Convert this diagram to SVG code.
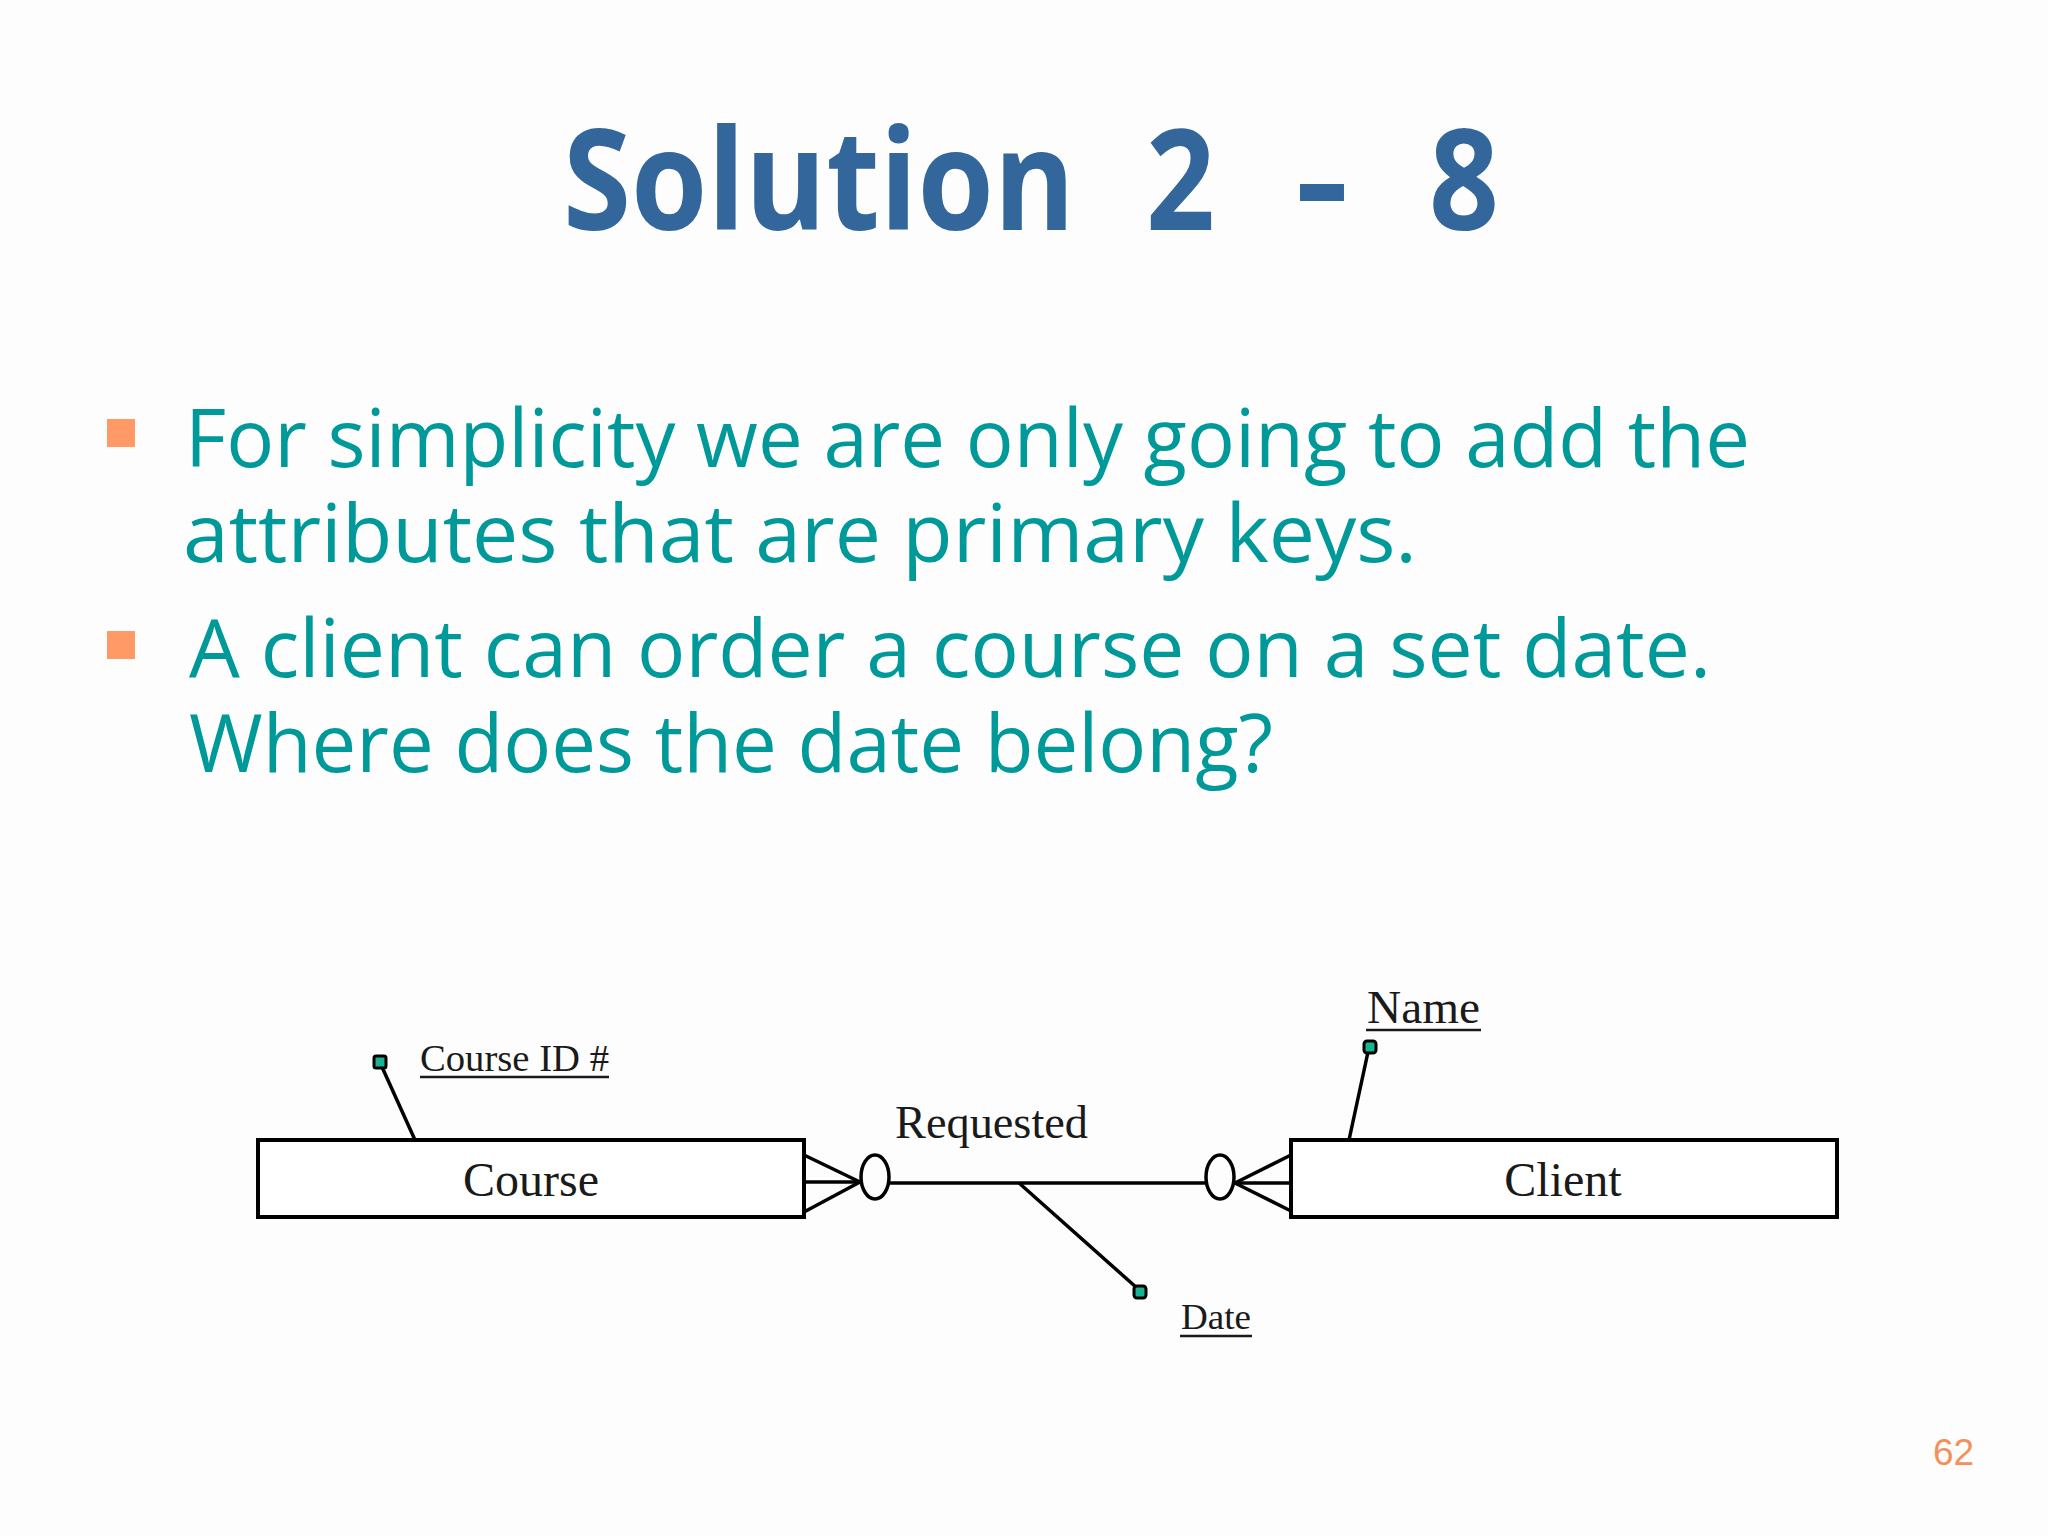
<svg xmlns="http://www.w3.org/2000/svg" width="2048" height="1536" viewBox="0 0 2048 1536">
  <style>
    .title { font-family: "Open Sans", "DejaVu Sans", sans-serif; font-weight: bold; font-size: 140px; fill: #33669A; }
    .bullet-text { font-family: "Open Sans", "DejaVu Sans", sans-serif; font-size: 80px; fill: #009999; }
    .bullet { fill: #FF9966; }
    .entity { fill: #FFFFFF; stroke: #000000; stroke-width: 4; }
    .label { font-family: "Liberation Serif", "Times New Roman", serif; fill: #1A1A1A; }
    .line { stroke: #000000; stroke-width: 3.5; fill: none; }
    .uline { stroke: #1A1A1A; stroke-width: 2.5; }
    .dot { fill: #19B394; stroke: #000000; stroke-width: 3; }
    .page { font-family: "Liberation Sans", Arial, sans-serif; font-size: 37px; fill: #F4915A; }
  </style>
  <rect width="2048" height="1536" fill="#FDFDFD"/>

  <g id="title">
    <text class="title" y="230"><tspan x="563" textLength="512" lengthAdjust="spacingAndGlyphs">Solution</tspan> <tspan x="1146" textLength="69" lengthAdjust="spacingAndGlyphs">2</tspan> <tspan x="1295" textLength="54" lengthAdjust="spacingAndGlyphs">-</tspan> <tspan x="1429" textLength="70" lengthAdjust="spacingAndGlyphs">8</tspan></text>
  </g>

  <g id="bullets">
    <rect class="bullet" x="107" y="419" width="28" height="28"/>
    <rect class="bullet" x="107" y="631" width="28" height="28"/>
    <text class="bullet-text" x="185" y="467" textLength="1565" lengthAdjust="spacingAndGlyphs">For simplicity we are only going to add the</text>
    <text class="bullet-text" x="183" y="562" textLength="1234" lengthAdjust="spacingAndGlyphs">attributes that are primary keys.</text>
    <text class="bullet-text" x="189" y="677" textLength="1522" lengthAdjust="spacingAndGlyphs">A client can order a course on a set date.</text>
    <text class="bullet-text" x="189" y="772" textLength="1084" lengthAdjust="spacingAndGlyphs">Where does the date belong?</text>
  </g>

  <g id="connectors">
    <!-- Course side crow's foot -->
    <line class="line" x1="804" y1="1155" x2="860" y2="1182"/>
    <line class="line" x1="804" y1="1182" x2="860" y2="1182"/>
    <line class="line" x1="804" y1="1212" x2="860" y2="1182"/>
    <ellipse class="line" cx="875" cy="1177" rx="14" ry="22"/>
    <!-- relationship line -->
    <line class="line" x1="889" y1="1183" x2="1206" y2="1183"/>
    <!-- Client side crow's foot -->
    <ellipse class="line" cx="1220" cy="1177" rx="14" ry="22"/>
    <line class="line" x1="1291" y1="1155" x2="1235" y2="1183"/>
    <line class="line" x1="1291" y1="1183" x2="1235" y2="1183"/>
    <line class="line" x1="1291" y1="1211" x2="1235" y2="1183"/>
    <!-- attribute links -->
    <line class="line" x1="382" y1="1067" x2="415" y2="1140"/>
    <line class="line" x1="1368" y1="1052" x2="1349" y2="1140"/>
    <line class="line" x1="1019" y1="1183" x2="1137" y2="1288"/>
  </g>

  <g id="course">
    <rect class="entity" x="258" y="1140" width="546" height="77"/>
    <text class="label" x="531" y="1196" font-size="48" text-anchor="middle">Course</text>
  </g>

  <g id="client">
    <rect class="entity" x="1291" y="1140" width="546" height="77"/>
    <text class="label" x="1563" y="1196" font-size="48" text-anchor="middle">Client</text>
  </g>

  <g id="requested">
    <text class="label" x="895" y="1138" font-size="46" textLength="193" lengthAdjust="spacingAndGlyphs">Requested</text>
  </g>

  <g id="course-id">
    <rect class="dot" x="374" y="1056" width="12" height="12" rx="2"/>
    <text class="label" x="420" y="1071" font-size="38" textLength="189" lengthAdjust="spacingAndGlyphs">Course ID #</text>
    <line class="uline" x1="420" y1="1077" x2="609" y2="1077"/>
  </g>

  <g id="name">
    <rect class="dot" x="1364" y="1041" width="12" height="12" rx="3"/>
    <text class="label" x="1367" y="1023" font-size="46" textLength="113" lengthAdjust="spacingAndGlyphs">Name</text>
    <line class="uline" x1="1366" y1="1030" x2="1481" y2="1030"/>
  </g>

  <g id="date">
    <rect class="dot" x="1134" y="1286" width="12" height="12" rx="3"/>
    <text class="label" x="1181" y="1329" font-size="36" textLength="70" lengthAdjust="spacingAndGlyphs">Date</text>
    <line class="uline" x1="1180" y1="1336" x2="1252" y2="1336"/>
  </g>

  <text class="page" x="1933" y="1465">62</text>
</svg>
